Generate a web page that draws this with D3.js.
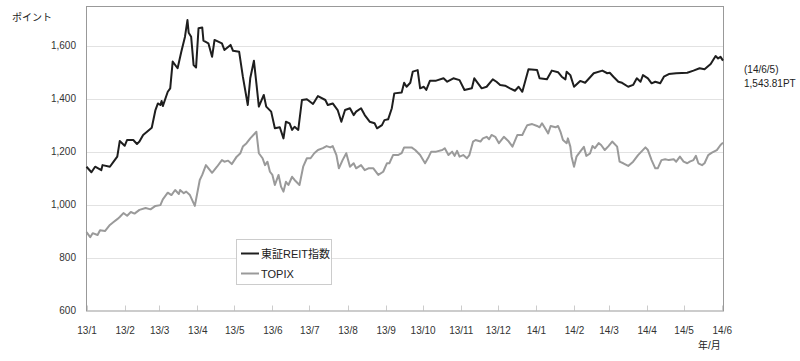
<!DOCTYPE html>
<html><head><meta charset="utf-8">
<script src="https://cdn.jsdelivr.net/npm/d3@7"></script>
<style>body{margin:0;background:#fff}svg{display:block}text{font-family:"Liberation Sans","Noto Sans CJK JP",sans-serif}</style>
</head><body><svg id="c" width="800" height="361"></svg>
<script>
// ---- data ----
const reitDates = ["2013-01-04","2013-01-08","2013-01-11","2013-01-16","2013-01-17","2013-01-23","2013-01-26","2013-01-29","2013-01-31","2013-02-04","2013-02-06","2013-02-11","2013-02-14","2013-02-16","2013-02-19","2013-02-26","2013-03-01","2013-03-03","2013-03-05","2013-03-06","2013-03-07","2013-03-11","2013-03-13","2013-03-15","2013-03-19","2013-03-22","2013-03-25","2013-03-27","2013-03-28","2013-03-30","2013-04-01","2013-04-03","2013-04-05","2013-04-08","2013-04-09","2013-04-13","2013-04-16","2013-04-18","2013-04-24","2013-04-26","2013-05-01","2013-05-03","2013-05-08","2013-05-11","2013-05-15","2013-05-17","2013-05-20","2013-05-22","2013-05-24","2013-05-28","2013-05-30","2013-06-03","2013-06-06","2013-06-10","2013-06-13","2013-06-15","2013-06-18","2013-06-20","2013-06-22","2013-06-25","2013-06-28","2013-07-02","2013-07-07","2013-07-11","2013-07-17","2013-07-19","2013-07-23","2013-07-27","2013-07-30","2013-08-02","2013-08-06","2013-08-09","2013-08-11","2013-08-15","2013-08-18","2013-08-22","2013-08-26","2013-08-28","2013-09-01","2013-09-03","2013-09-06","2013-09-09","2013-09-11","2013-09-17","2013-09-19","2013-09-21","2013-09-24","2013-09-26","2013-09-30","2013-10-02","2013-10-05","2013-10-07","2013-10-10","2013-10-15","2013-10-21","2013-10-24","2013-10-29","2013-11-03","2013-11-07","2013-11-13","2013-11-15","2013-11-18","2013-11-21","2013-11-25","2013-11-30","2013-12-03","2013-12-06","2013-12-10","2013-12-14","2013-12-18","2013-12-21","2013-12-24","2013-12-29","2014-01-05","2014-01-07","2014-01-13","2014-01-17","2014-01-22","2014-01-25","2014-01-28","2014-01-29","2014-02-01","2014-02-04","2014-02-09","2014-02-13","2014-02-20","2014-02-27","2014-03-03","2014-03-05","2014-03-08","2014-03-12","2014-03-15","2014-03-20","2014-03-24","2014-03-27","2014-03-30","2014-04-01","2014-04-05","2014-04-08","2014-04-11","2014-04-15","2014-04-18","2014-04-22","2014-04-28","2014-05-07","2014-05-12","2014-05-17","2014-05-21","2014-05-26","2014-05-30","2014-06-01","2014-06-03","2014-06-05"];
const reitValues = [1143,1122,1143,1130,1149,1143,1162,1181,1240,1222,1244,1244,1229,1238,1263,1290,1357,1382,1376,1391,1372,1426,1439,1540,1515,1577,1634,1697,1649,1634,1527,1518,1666,1669,1619,1609,1558,1622,1609,1584,1603,1581,1577,1483,1376,1477,1543,1458,1370,1414,1370,1351,1288,1292,1250,1313,1307,1282,1294,1282,1395,1398,1380,1410,1395,1376,1382,1357,1313,1357,1364,1338,1351,1364,1338,1313,1307,1288,1300,1319,1322,1364,1420,1423,1460,1445,1460,1502,1508,1439,1445,1433,1468,1468,1477,1464,1477,1470,1433,1439,1477,1458,1439,1445,1473,1464,1452,1449,1439,1430,1445,1426,1511,1508,1477,1473,1506,1500,1483,1473,1502,1489,1445,1467,1460,1496,1506,1496,1498,1483,1464,1460,1445,1452,1477,1464,1489,1477,1458,1464,1458,1483,1493,1496,1498,1506,1515,1511,1531,1561,1552,1558,1543.81];
const topixDates = ["2013-01-04","2013-01-07","2013-01-09","2013-01-13","2013-01-15","2013-01-19","2013-01-23","2013-01-26","2013-01-29","2013-01-31","2013-02-03","2013-02-06","2013-02-09","2013-02-12","2013-02-16","2013-02-21","2013-02-25","2013-03-01","2013-03-05","2013-03-07","2013-03-11","2013-03-14","2013-03-17","2013-03-20","2013-03-21","2013-03-24","2013-03-26","2013-03-29","2013-04-02","2013-04-06","2013-04-08","2013-04-11","2013-04-16","2013-04-20","2013-04-24","2013-04-26","2013-04-29","2013-05-02","2013-05-06","2013-05-09","2013-05-11","2013-05-14","2013-05-17","2013-05-22","2013-05-24","2013-05-27","2013-05-29","2013-05-31","2013-06-02","2013-06-04","2013-06-06","2013-06-09","2013-06-11","2013-06-13","2013-06-15","2013-06-17","2013-06-20","2013-06-22","2013-06-26","2013-06-29","2013-07-02","2013-07-05","2013-07-08","2013-07-11","2013-07-15","2013-07-18","2013-07-21","2013-07-23","2013-07-26","2013-07-28","2013-07-31","2013-08-03","2013-08-06","2013-08-09","2013-08-11","2013-08-15","2013-08-18","2013-08-21","2013-08-25","2013-08-29","2013-09-02","2013-09-05","2013-09-07","2013-09-10","2013-09-14","2013-09-17","2013-09-19","2013-09-22","2013-09-25","2013-09-28","2013-10-02","2013-10-06","2013-10-09","2013-10-11","2013-10-15","2013-10-20","2013-10-22","2013-10-25","2013-10-28","2013-10-30","2013-11-01","2013-11-03","2013-11-06","2013-11-09","2013-11-11","2013-11-14","2013-11-16","2013-11-20","2013-11-22","2013-11-25","2013-11-27","2013-11-29","2013-12-02","2013-12-05","2013-12-09","2013-12-13","2013-12-16","2013-12-20","2013-12-24","2013-12-26","2013-12-28","2014-01-01","2014-01-05","2014-01-07","2014-01-09","2014-01-11","2014-01-14","2014-01-16","2014-01-20","2014-01-22","2014-01-24","2014-01-26","2014-01-29","2014-01-30","2014-02-01","2014-02-02","2014-02-04","2014-02-06","2014-02-09","2014-02-12","2014-02-14","2014-02-17","2014-02-19","2014-02-21","2014-02-24","2014-02-26","2014-03-01","2014-03-04","2014-03-07","2014-03-11","2014-03-13","2014-03-16","2014-03-20","2014-03-24","2014-03-28","2014-04-03","2014-04-05","2014-04-08","2014-04-11","2014-04-13","2014-04-16","2014-04-19","2014-04-22","2014-04-26","2014-04-28","2014-05-01","2014-05-04","2014-05-07","2014-05-09","2014-05-12","2014-05-14","2014-05-16","2014-05-19","2014-05-21","2014-05-24","2014-05-27","2014-05-31","2014-06-03","2014-06-05"];
const topixValues = [896,877,892,885,903,900,923,934,945,953,968,958,972,966,980,987,982,995,998,1020,1045,1036,1055,1040,1055,1043,1049,1036,995,1093,1112,1149,1120,1143,1168,1162,1166,1153,1181,1194,1219,1232,1250,1275,1194,1175,1149,1162,1124,1112,1074,1112,1068,1049,1086,1074,1105,1093,1074,1143,1175,1175,1194,1206,1213,1221,1216,1221,1187,1137,1168,1194,1143,1156,1137,1149,1130,1137,1137,1112,1124,1156,1156,1187,1187,1194,1216,1216,1216,1206,1187,1156,1181,1200,1200,1206,1213,1187,1200,1184,1203,1181,1187,1175,1187,1238,1244,1238,1250,1256,1247,1263,1256,1232,1256,1238,1219,1263,1263,1282,1300,1304,1297,1292,1307,1292,1269,1297,1292,1297,1275,1244,1232,1250,1219,1181,1143,1181,1200,1218,1184,1193,1221,1213,1232,1225,1206,1221,1238,1219,1162,1156,1146,1162,1187,1216,1206,1168,1137,1137,1168,1171,1168,1171,1162,1181,1162,1156,1162,1168,1184,1156,1149,1156,1187,1196,1206,1225,1234];
const seriesNames = ["東証REIT指数", "TOPIX"];
const yTicks = [600, 800, 1000, 1200, 1400, 1600];
const xTickDates = ["2013-01-04","2013-02-04","2013-03-04","2013-04-04","2013-05-04","2013-06-04","2013-07-04","2013-08-04","2013-09-04","2013-10-04","2013-11-04","2013-12-04","2014-01-04","2014-02-04","2014-03-04","2014-04-04","2014-05-04","2014-06-04"];
const xTickLabels = ["13/1","13/2","13/3","13/4","13/5","13/6","13/7","13/8","13/9","13/10","13/11","13/12","14/1","14/2","14/3","14/4","14/5","14/6"];
const yUnit = "ポイント";
const xUnit = "年/月";
const lastNote = ["(14/6/5)", "1,543.81PT"];

// ---- chart ----
const parse = d3.timeParse("%Y-%m-%d");
const svg = d3.select("#c");
const L = 86, R = 723, T = 6, B = 310.5;
const x = d3.scaleTime().domain([parse("2013-01-04"), parse("2014-06-05")]).range([L + 0.5, R]);
const y = d3.scaleLinear().domain([600, 1750]).range([B, T]);

// gridlines
svg.append("g").selectAll("line").data(yTicks.slice(1)).join("line")
  .attr("x1", L).attr("x2", R).attr("y1", d => Math.round(y(d)) + 0.5).attr("y2", d => Math.round(y(d)) + 0.5)
  .attr("stroke", "#e2e2e2").attr("stroke-width", 1);

// y axis labels
const yAxis = d3.axisLeft(y).tickValues(yTicks).tickSize(0).tickPadding(10).tickFormat(d3.format(","));
const gy = svg.append("g").attr("transform", `translate(${L},0)`).call(yAxis);
gy.select(".domain").remove();
gy.selectAll("text").attr("font-size", 10).attr("fill", "#333");

// x axis
const xAxis = d3.axisBottom(x).tickValues(xTickDates.map(parse)).tickSize(0).tickPadding(16)
  .tickFormat((d, i) => xTickLabels[i]);
const gx = svg.append("g").attr("transform", `translate(0,${B})`).call(xAxis);
gx.select(".domain").remove();
gx.selectAll("text").attr("font-size", 10).attr("fill", "#333");
// inner ticks
svg.append("g").selectAll("line").data(xTickDates.map(parse)).join("line")
  .attr("x1", d => Math.round(x(d)) + 0.5).attr("x2", d => Math.round(x(d)) + 0.5)
  .attr("y1", B).attr("y2", B - 5).attr("stroke", "#ccc");

// frame
svg.append("rect").attr("x", L + 0.5).attr("y", T + 0.5).attr("width", R - L).attr("height", B - T)
  .attr("fill", "none").attr("stroke", "#999").attr("stroke-width", 1);

// lines
const line = d3.line().x(d => x(d[0])).y(d => y(d[1]));
const reit = reitDates.map((d, i) => [parse(d), reitValues[i]]);
const topix = topixDates.map((d, i) => [parse(d), topixValues[i]]);
svg.append("path").datum(topix).attr("d", line).attr("fill", "none").attr("stroke", "#9a9a9a").attr("stroke-width", 2).attr("stroke-linejoin", "round");
svg.append("path").datum(reit).attr("d", line).attr("fill", "none").attr("stroke", "#1e1e1e").attr("stroke-width", 2).attr("stroke-linejoin", "round");

// legend
const lg = svg.append("g");
lg.append("rect").attr("x", 236.5).attr("y", 239.5).attr("width", 95).attr("height", 45)
  .attr("fill", "#fff").attr("stroke", "#ccc");
const legItems = [{name: seriesNames[0], color: "#1e1e1e"}, {name: seriesNames[1], color: "#9a9a9a"}];
legItems.forEach((it, i) => {
  const cy = 253.5 + i * 20;
  lg.append("line").attr("x1", 241).attr("x2", 259).attr("y1", cy).attr("y2", cy).attr("stroke", it.color).attr("stroke-width", 2);
  lg.append("text").attr("x", 261).attr("y", cy + 4).attr("font-size", 11).attr("fill", "#222").text(it.name);
});

// unit labels
svg.append("text").attr("x", 12).attr("y", 21).attr("font-size", 10).attr("fill", "#222").text(yUnit);
svg.append("text").attr("x", 698).attr("y", 349).attr("font-size", 10).attr("fill", "#222").text(xUnit);

// last value note
lastNote.forEach((t, i) => {
  svg.append("text").attr("x", 744).attr("y", 73 + i * 14).attr("font-size", 10).attr("fill", "#222").text(t);
});
</script></body></html>
